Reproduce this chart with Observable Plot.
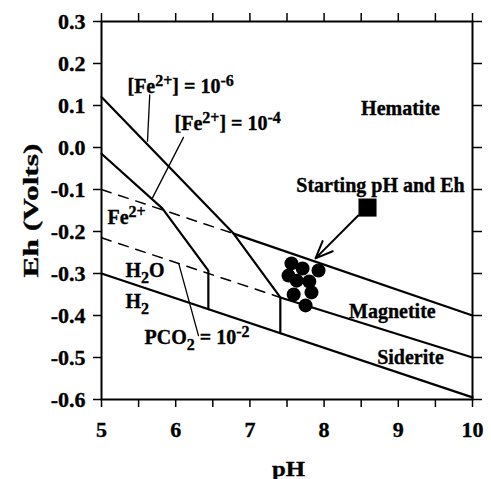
<!DOCTYPE html>
<html>
<head>
<meta charset="utf-8">
<script src="https://cdn.jsdelivr.net/npm/d3@7"></script>
<script src="https://cdn.jsdelivr.net/npm/@observablehq/plot@0.6"></script>
<style>
  html, body { margin: 0; padding: 0; background: #fff; }
  #chart svg { display: block; }
</style>
</head>
<body>
<div id="chart"></div>
<script>
// ---- Tick values and labels ----
const xTicks = [5, 5.5, 6, 6.5, 7, 7.5, 8, 8.5, 9, 9.5, 10];
const xTickLabels = ["5", "", "6", "", "7", "", "8", "", "9", "", "10"];
const yTicks = [-0.6, -0.5, -0.4, -0.3, -0.2, -0.1, 0, 0.1, 0.2, 0.3];
const yTickLabels = ["-0.6", "-0.5", "-0.4", "-0.3", "-0.2", "-0.1", "0.0", "0.1", "0.2", "0.3"];

// ---- Boundary lines [pH, Eh] ----
const fe6Line = [[5, 0.12], [6.78, -0.205], [7.41, -0.357], [7.41, -0.442]];
const fe4Line = [[5, -0.015], [5.82, -0.145], [6.44, -0.293], [6.44, -0.385]];
const hemMagLine = [[6.78, -0.205], [10, -0.40]];
const magSidLine = [[7.41, -0.357], [10, -0.50]];
const waterLine = [[5, -0.30], [10, -0.595]];
const pco2UpperLine = [[5, -0.10], [6.78, -0.205]];
const pco2LowerLine = [[5, -0.215], [7.41, -0.357]];

// ---- Leader lines ----
const leaderFe6 = [[5.65, 0.125], [5.62, 0.015]];
const leaderFe4 = [[6.105, 0.024], [5.687, -0.12]];
const leaderPco2 = [[6.307, -0.448], [6.04, -0.276]];

// ---- Measured samples ----
const samplePH = [7.56, 7.71, 7.925, 7.52, 7.63, 7.80, 7.59, 7.83, 7.75];
const sampleEh = [-0.276, -0.288, -0.293, -0.305, -0.317, -0.319, -0.350, -0.345, -0.376];

// ---- Starting point and arrow ----
const startPoint = [8.585, -0.143];
const arrowFrom = [8.46, -0.162];
const arrowTo = [7.884, -0.264];

// ---- Labels ----
const startLabels = ["[Fe^{2+}] = 10^{-6}", "[Fe^{2+}] = 10^{-4}", "Fe^{2+}", "H_{2}O", "H_{2}", "PCO_{2} = 10^{-2}"];
const startLabelPH = [5.35, 5.984, 5.08, 5.323, 5.323, 5.58];
const startLabelEh = [0.129, 0.0405, -0.183, -0.3095, -0.381, -0.4667];
const midLabels = ["Hematite", "Starting pH and Eh", "Magnetite", "Siderite"];
const midLabelPH = [9.03, 8.76, 8.92, 9.164];
const midLabelEh = [0.0762, -0.1048, -0.4048, -0.5143];
const xTitle = "pH";
const yTitle = "Eh (Volts)";

const samples = samplePH.map((x, i) => ({x, y: sampleEh[i]}));
const startTbl = startLabels.map((t, i) => ({t, x: startLabelPH[i], y: startLabelEh[i]}));
const midTbl = midLabels.map((t, i) => ({t, x: midLabelPH[i], y: midLabelEh[i]}));

const px = d => d[0], py = d => d[1];
const solid = (data, w = 2.2) => Plot.line(data, {x: px, y: py, stroke: "black", strokeWidth: w});
const dashed = data => Plot.line(data, {x: px, y: py, stroke: "black", strokeWidth: 1.5, strokeDasharray: "10,8"});

const chart = Plot.plot({
  width: 491,
  height: 479,
  marginLeft: 101,
  marginRight: 19,
  marginTop: 21,
  marginBottom: 80,
  style: {fontFamily: "'Liberation Serif', 'Times New Roman', serif", fontWeight: "bold", background: "white", color: "black"},
  x: {domain: [5, 10], label: null},
  y: {domain: [-0.6, 0.3], label: null},
  marks: [
    dashed(pco2UpperLine),
    dashed(pco2LowerLine),
    solid(fe6Line),
    solid(fe4Line),
    solid(hemMagLine),
    solid(magSidLine),
    solid(waterLine),
    solid(leaderFe6, 1.3),
    solid(leaderFe4, 1.3),
    solid(leaderPco2, 1.3),
    Plot.dot(samples, {x: "x", y: "y", r: 7, fill: "black", stroke: "none"}),
    Plot.dot([startPoint], {x: px, y: py, symbol: "square", r: 10.2, fill: "black", stroke: "none"}),
    Plot.arrow([[arrowFrom, arrowTo]], {x1: d => d[0][0], y1: d => d[0][1], x2: d => d[1][0], y2: d => d[1][1], stroke: "black", strokeWidth: 2, headLength: 14, headAngle: 45}),
    Plot.text(startTbl, {x: "x", y: "y", text: "t", textAnchor: "start", lineAnchor: "bottom", fontSize: 20, fill: "black"}),
    Plot.text(midTbl, {x: "x", y: "y", text: "t", textAnchor: "middle", lineAnchor: "bottom", fontSize: 20, fill: "black"}),
    Plot.axisX({anchor: "bottom", ticks: xTicks, tickFormat: d => xTickLabels[xTicks.indexOf(d)], tickSize: 8, tickPadding: 14, fontSize: 22, strokeWidth: 1.5, label: null}),
    Plot.axisX({anchor: "top", ticks: xTicks, tickFormat: () => "", tickSize: 9, strokeWidth: 1.5, label: null}),
    Plot.axisY({anchor: "left", ticks: yTicks, tickFormat: d => yTickLabels[yTicks.indexOf(d)], tickSize: 8, tickPadding: 8, fontSize: 22, strokeWidth: 1.5, label: null}),
    Plot.axisY({anchor: "right", ticks: yTicks, tickFormat: () => "", tickSize: 9, strokeWidth: 1.5, label: null}),
    Plot.text([xTitle], {frameAnchor: "bottom", dx: -15, dy: 76, textAnchor: "start", lineAnchor: "bottom", fontSize: 22, fill: "black"}),
    Plot.text([yTitle], {frameAnchor: "left", dx: -71, dy: 67, textAnchor: "start", rotate: -90, fontSize: 22, fill: "black"}),
    Plot.frame({stroke: "black", strokeWidth: 2})
  ]
});

document.getElementById("chart").appendChild(chart);

// Rich text: superscripts ^{...} and subscripts _{...}; stretch axis titles
const NS = "http://www.w3.org/2000/svg";
chart.querySelectorAll("text").forEach(el => {
  const s = el.textContent;
  el.setAttribute("stroke", "black");
  el.setAttribute("stroke-width", "0.35");
  if (s === yTitle) { el.setAttribute("textLength", "134"); el.setAttribute("lengthAdjust", "spacingAndGlyphs"); }
  if (s === xTitle) { el.setAttribute("textLength", "33"); el.setAttribute("lengthAdjust", "spacingAndGlyphs"); }
  if (!/[\^_]\{/.test(s)) return;
  while (el.firstChild) el.removeChild(el.firstChild);
  let cur = 0;
  const add = (str, target, size) => {
    if (!str) return;
    const t = document.createElementNS(NS, "tspan");
    t.textContent = str;
    const d = target - cur;
    if (d) t.setAttribute("dy", d);
    if (size) t.setAttribute("font-size", size);
    cur = target;
    el.appendChild(t);
  };
  const re = /([\^_])\{([^}]*)\}/g;
  let last = 0, m;
  while ((m = re.exec(s))) {
    add(s.slice(last, m.index), 0);
    add(m[2], m[1] === "^" ? -7 : 6, 16);
    last = re.lastIndex;
  }
  add(s.slice(last), 0);
});
</script>
</body>
</html>
